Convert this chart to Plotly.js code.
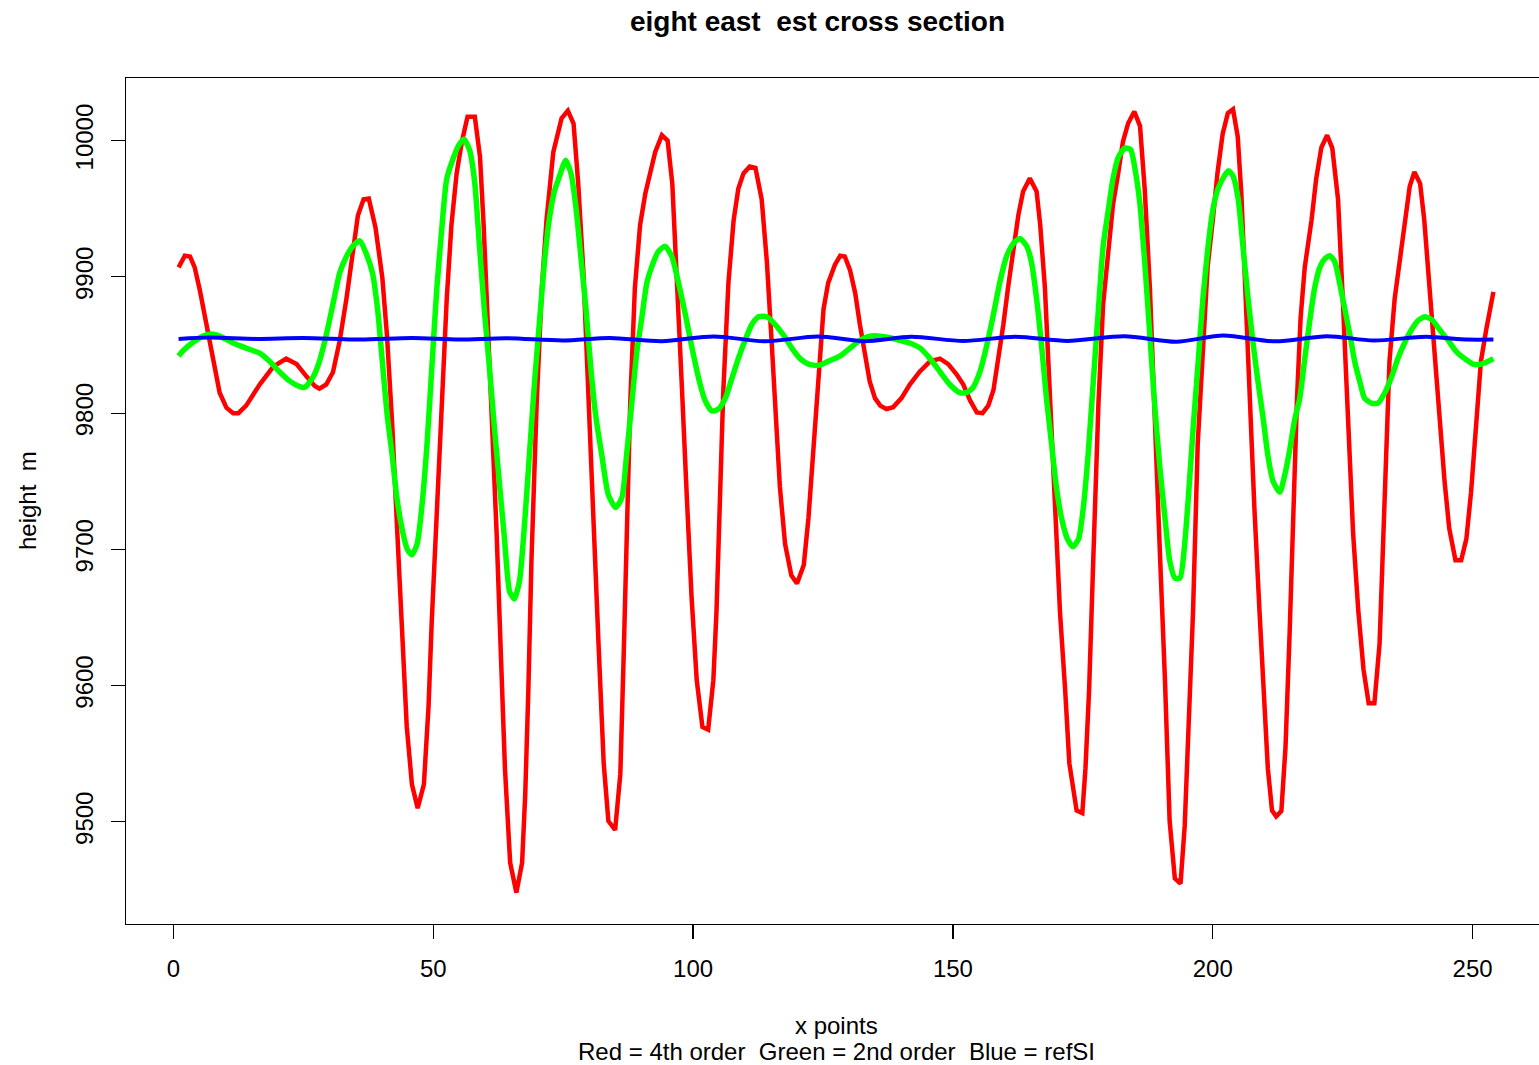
<!DOCTYPE html>
<html>
<head>
<meta charset="utf-8">
<script src="https://cdn.plot.ly/plotly-3.0.1.min.js"></script>
<style>
  html, body { margin: 0; padding: 0; background: #ffffff; overflow: hidden; }
  #chart { width: 1560px; height: 1065px; }
</style>
</head>
<body>
<div id="chart"></div>
<script>
// Cross-section heights along the transect (x = point index, y = height in m)

// Red: 4th order
const redX = [1,2.2,3.2,4.1,5.1,6.3,7.6,8.9,10.2,11.5,12.5,14,16.6,19.2,21.7,23.7,25.6,27.2,28.1,29.4,30.7,32,33.3,34.6,35.5,36.6,37.6,38.9,40.2,41.1,42.1,43,44,44.9,45.9,47,48.2,49.1,49.7,50.7,51.6,52.6,53.5,54.5,55.5,56.6,58,59,59.7,60.3,61.3,62.2,62.9,63.8,64.8,66,67.1,67.7,68.3,68.9,69.9,70.9,71.8,73.1,74.7,75.9,77,77.9,78.9,79.9,80.8,81.8,82.8,83.7,85,86,86.6,87.2,87.9,88.8,89.8,90.8,91.7,92.7,94,95.1,96,96.9,97.8,98.8,99.7,100.7,101.8,102.9,103.9,104.5,105.2,105.8,106.8,107.8,108.7,109.7,110.9,112,113.2,114.2,115.1,116.1,116.7,117.7,118.9,120,121.3,122.2,123.2,124.1,125.1,126,127.3,128.3,129.2,130.2,131.2,132.1,133.1,134,135,136,137.2,138.5,140.1,141.7,143.6,145.6,147.5,149.1,150.7,152,153.3,154.6,155.7,156.8,157.8,158.7,159.7,160.6,161.6,162.6,163.5,164.8,166.1,166.8,167.7,168.3,169,169.6,170.6,171.6,172.4,173.8,174.9,175.5,176.2,177,178,178.9,179.9,180.8,181.8,182.7,183.7,184.9,186,186.9,187.9,188.9,189.8,190.8,191.7,192.7,193.8,194.6,195.3,196.2,197.1,198.1,199,200,200.9,201.9,202.9,203.9,204.8,205.5,206.1,207.1,208,209,209.9,210.6,211.4,212.2,213.2,214,214.8,215.5,216.2,216.9,217.7,219,219.9,220.9,222,223,224.1,225,226,227,228,229,230,231.1,232.1,232.7,233.4,234,235,235.9,236.9,237.9,238.8,239.9,240.7,241.7,242.7,243.6,244.6,245.5,246.7,247.8,248.8,249.7,250.7,251.6,252.6,254];
const redY = [9907,9915.5,9915,9907,9890,9865,9838,9815,9804,9800,9800,9805.5,9821,9834,9840,9836,9827,9820,9818,9821,9830,9853,9884,9922,9945,9957,9957.5,9936,9899.5,9857,9792,9719,9639,9570,9527.5,9510,9527.5,9585,9646,9731,9815,9884,9938,9976,9999,10017.6,10017.6,9988,9938,9884,9800,9711.5,9635,9539,9470,9448,9470,9520,9596.5,9692,9807,9892,9942,9991.5,10016.4,10022,10012.6,9968.5,9903,9807,9711.5,9631,9543,9500.6,9494,9535,9616,9711.5,9807,9892,9938,9961,9976,9991.5,10004,10000,9968.5,9903,9823,9738,9665.5,9604,9569.6,9567.7,9604,9654,9731,9815,9895.6,9941.6,9964.6,9976,9981,9980,9957,9911,9853.4,9792,9746,9704,9681,9675,9688.5,9723,9777,9830.4,9876.4,9895.6,9909,9915.5,9915,9905,9888,9865,9842,9823,9811,9805.5,9803,9804.4,9811,9821,9830.4,9838,9840,9836,9828.5,9821,9809.3,9800.5,9800,9805.5,9817,9838,9865,9892,9918.6,9945.5,9962.7,9972.3,9962.7,9938,9892,9846,9784.4,9731,9654,9596.5,9543,9508.3,9506.4,9539,9596.5,9692,9807,9880,9922,9953,9976,9999,10012.6,10021.4,10010.7,9964.6,9891.8,9799.7,9700,9604,9500.6,9458.4,9454.6,9497,9558,9654,9777,9853.4,9907,9941.6,9976,10005,10020.2,10023,10003,9960.8,9903.3,9823,9731,9654,9596.5,9539,9508.3,9504,9508,9555,9640,9731,9810,9870,9907,9941.6,9972,9995,10004,9994.5,9957,9885,9790,9712,9655,9612,9587,9587,9631,9692,9769,9838,9884,9911,9941.6,9966.5,9977,9968.5,9941.6,9891.8,9838,9792,9750,9715.4,9692,9692,9707.7,9742,9792,9838,9861,9889];

// Green: 2nd order
const greenX = [1,1.9,3.8,5.7,7.3,8.9,11.5,14,16.6,18.5,20.4,22.4,24.3,25.3,26.9,28.1,29.4,30.7,32,33.3,34.6,35.9,36.9,38.3,39.3,40.2,41.1,42.1,43,44,45,45.9,46.9,47.8,48.8,49.8,50.7,51.7,52.6,53.9,54.8,55.9,57,58,58.9,59.9,60.8,61.8,62.8,63.7,64.7,65.6,66.6,67.5,68.5,69.5,70.4,71.4,72.3,73.3,74.3,75.5,76.5,77.4,78.4,79.4,80.3,81.3,82.4,83.7,85.1,86.3,87.2,88.2,89.2,90.1,91.1,92,93.3,94.6,95.9,97.2,98.5,99.7,101,102.3,103.6,104.9,106.2,107.4,108.7,110,111.3,112.6,114.2,115.8,117.4,119,120.6,122.2,124.1,126,128.3,130.2,132.1,134,136,137.9,139.8,141.7,143.7,145.6,147.5,149.4,151.3,152.6,153.9,155.2,156.5,157.8,159,160.3,161.6,162.9,164.2,165.1,166.1,167.05,168,169,169.9,170.9,172,173.1,174.2,175.1,176,177,178,178.9,179.9,180.8,181.8,183.1,184.2,185,186,186.9,187.9,188.8,189.8,190.8,191.7,192.7,193.7,194.5,195.3,196.2,197.2,198.1,199.1,200,201,202.2,203,203.9,204.9,205.8,206.8,207.8,208.7,209.7,210.6,211.6,212.9,213.8,214.8,215.8,216.7,217.7,218.7,219.6,220.6,221.5,222.5,223.5,224.4,225.4,226.4,227.3,228.3,229.2,230.5,231.8,233.1,234.4,235.6,236.9,238.2,239.5,240.8,242.1,243.7,245.3,246.9,248.5,250.1,251.7,253,254];
const greenY = [9842,9846,9852,9856.5,9858,9856.5,9851.5,9847.7,9844,9838,9830.4,9823.5,9819.5,9819,9826.6,9838,9857,9880,9903,9915,9923,9926.5,9919,9903,9876,9838,9800,9769,9738,9715,9700,9696,9704,9731,9777,9838,9892,9938,9972,9987.6,9996,10001,9993,9968.5,9922.5,9872.6,9834,9788,9746,9708,9669,9663.6,9677,9715,9769,9823,9865,9911,9941.6,9962.7,9974,9985.7,9976,9953,9915,9876,9834,9797,9770,9740,9730.7,9738,9769,9807,9846,9869,9895.6,9907,9918.6,9922.5,9915,9895.6,9872.6,9849.6,9826.6,9809.3,9801.6,9803,9811,9824.7,9840,9853.4,9865,9870.7,9870.7,9865,9857.3,9847.7,9840,9836,9835,9838,9842,9847.7,9853.4,9856.5,9856.5,9855.3,9853.4,9851.5,9847.7,9840,9830.4,9821,9815,9815,9819,9830.4,9849.6,9872.6,9895.6,9914.8,9924.4,9928.2,9922.5,9911,9884,9849.6,9811,9776.7,9746,9723,9708,9702,9708,9731,9769,9823,9876.4,9922.5,9949,9972,9987.6,9994.5,9993.4,9980,9953,9911,9857,9807,9761,9723,9692,9679,9679,9700,9738,9788,9838,9884,9922.5,9949,9964.6,9974,9978,9974,9957,9922.5,9884,9849.6,9823,9796,9769,9750,9742,9753.7,9773,9796,9810,9840,9868.8,9891.8,9907,9913,9915.5,9911,9895.6,9876.4,9857.3,9838,9823,9811,9807.4,9807.4,9815,9826.6,9840,9851.5,9861,9868,9870.7,9868.8,9861,9853.4,9845,9840,9836,9836,9838,9840];

// Blue: refSI
const blueX = [1,7,16,25,36,46,55,64,75,84,94,104,114,124,133,142,152,162,172,183,193,202,212,222,231,241,249,254];
const blueY = [9854.5,9855.5,9854.5,9855.2,9854,9855.2,9854,9855,9853.4,9855.2,9852.8,9856.3,9852.7,9856.3,9852.8,9856,9853,9856,9853,9856.5,9852.4,9857,9852.7,9856.5,9853.3,9856,9854,9854];

// Axis ticks
const xTicks = [0, 50, 100, 150, 200, 250];
const yTicks = [9500, 9600, 9700, 9800, 9900, 10000];

const FONT = '"Liberation Sans", Arial, Helvetica, sans-serif';
const W = 1560, H = 1065;
const plotL = 126, plotR = 1546, plotT = 78, plotB = 924;

// R-style 4% padding around the data range
function padded(arrs) {
  let lo = Infinity, hi = -Infinity;
  arrs.forEach(a => a.forEach(v => { if (v < lo) lo = v; if (v > hi) hi = v; }));
  const d = (hi - lo) * 0.04;
  return [lo - d, hi + d];
}
const xRange = padded([redX, greenX, blueX]);
const yRange = padded([redY, greenY, blueY]);

const traces = [
  { x: redX, y: redY, type: 'scatter', mode: 'lines', name: '4th order',
    line: { color: '#ff0000', width: 4.5 } },
  { x: greenX, y: greenY, type: 'scatter', mode: 'lines', name: '2nd order',
    line: { color: '#00ff00', width: 5.5, shape: 'spline', smoothing: 0.6 } },
  { x: blueX, y: blueY, type: 'scatter', mode: 'lines', name: 'refSI',
    line: { color: '#0000ff', width: 4, shape: 'spline', smoothing: 0.8 } }
];

const plotW = plotR - plotL, plotH = plotB - plotT;
const px2paperY = py => (plotB - py) / plotH;
const px2paperX = px => (px - plotL) / plotW;

const layout = {
  width: W, height: H,
  margin: { l: plotL, r: W - plotR, t: plotT, b: H - plotB, pad: 0 },
  paper_bgcolor: '#ffffff', plot_bgcolor: '#ffffff',
  showlegend: false,
  font: { family: FONT, size: 24, color: '#000000' },
  title: {
    text: '<b>eight east \u00a0est cross section</b>',
    font: { family: FONT, size: 28, color: '#000000' },
    x: 817.5 / W, xref: 'container', xanchor: 'center',
    y: 1 - 21 / H, yref: 'container', yanchor: 'middle'
  },
  xaxis: {
    range: xRange, tickmode: 'array', tickvals: xTicks, ticktext: xTicks.map(String),
    ticks: 'outside', ticklen: 14, tickwidth: 1.2, tickcolor: '#000000',
    ticklabelstandoff: 9,
    showline: true, linecolor: '#000000', linewidth: 1.3, mirror: true,
    showgrid: false, zeroline: false,
    tickfont: { family: FONT, size: 24, color: '#000000' },
    title: { text: '' }
  },
  yaxis: {
    range: yRange, tickmode: 'array', tickvals: yTicks, ticktext: yTicks.map(String),
    ticks: 'outside', ticklen: 14, tickwidth: 1.2, tickcolor: '#000000',
    tickangle: -90, ticklabelstandoff: 8,
    showline: true, linecolor: '#000000', linewidth: 1.3, mirror: true,
    showgrid: false, zeroline: false,
    tickfont: { family: FONT, size: 24, color: '#000000' },
    title: { text: '' }
  },
  annotations: [
    { text: 'x points', xref: 'paper', yref: 'paper',
      x: px2paperX(836), y: px2paperY(1025), xanchor: 'center', yanchor: 'middle',
      showarrow: false, font: { family: FONT, size: 24, color: '#000000' } },
    { text: 'Red = 4th order \u00a0Green = 2nd order \u00a0Blue = refSI', xref: 'paper', yref: 'paper',
      x: px2paperX(836), y: px2paperY(1051), xanchor: 'center', yanchor: 'middle',
      showarrow: false, font: { family: FONT, size: 24, color: '#000000' } },
    { text: 'height \u00a0m', xref: 'paper', yref: 'paper', textangle: -90,
      x: px2paperX(27), y: px2paperY(501), xanchor: 'center', yanchor: 'middle',
      showarrow: false, font: { family: FONT, size: 24, color: '#000000' } }
  ]
};

Plotly.newPlot('chart', traces, layout, { displayModeBar: false, staticPlot: true });
</script>
</body>
</html>
